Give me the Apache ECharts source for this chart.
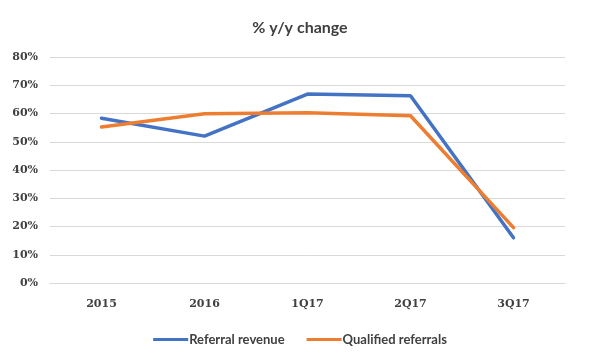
<!DOCTYPE html>
<html><head><meta charset="utf-8">
<script src="https://cdn.jsdelivr.net/npm/echarts@6/dist/echarts.min.js"></script>
<style>html,body{margin:0;padding:0;background:#fff}#c{width:600px;height:360px}</style>
</head><body><div id="c"></div>
<script>
const categories = ['2015', '2016', '1Q17', '2Q17', '3Q17'];
const referralRevenue = [58.3, 52.0, 66.9, 66.3, 16.0];
const qualifiedReferrals = [55.2, 59.9, 60.3, 59.2, 19.6];
const seriesNames = ['Referral revenue', 'Qualified referrals'];

const chart = echarts.init(document.getElementById('c'));
chart.setOption({
  animation: false,
  backgroundColor: '#fff',
  title: {
    text: '% y/y change', left: 'center', top: 15,
    textStyle: { fontFamily: 'Lato', fontSize: 16, fontWeight: 'bold', color: '#404040' }
  },
  legend: {
    bottom: 9, left: 'center', itemGap: 22, itemWidth: 35, itemHeight: 3, icon: 'rect',
    textStyle: { fontFamily: 'Lato', fontSize: 13, fontWeight: 'bold', color: '#404040', padding: [0, 0, 0, -4] },
    data: seriesNames
  },
  grid: { left: 50, right: 35, top: 57, bottom: 77 },
  xAxis: {
    type: 'category', data: categories, boundaryGap: true,
    axisLine: { show: true, lineStyle: { color: '#d9d9d9', width: 1 } },
    axisTick: { show: false },
    axisLabel: { fontFamily: 'DejaVu Serif', fontWeight: 'bold', fontSize: 11, color: '#404040', margin: 16 }
  },
  yAxis: {
    type: 'value', min: 0, max: 80, interval: 10,
    axisLine: { show: false }, axisTick: { show: false },
    splitLine: { lineStyle: { color: '#d9d9d9', width: 1 } },
    axisLabel: { formatter: '{value}%', fontFamily: 'DejaVu Serif', fontWeight: 'bold', fontSize: 11, color: '#404040', margin: 12 }
  },
  series: [
    { name: seriesNames[0], type: 'line', data: referralRevenue, symbol: 'none',
      lineStyle: { color: '#4472C4', width: 3.5, cap: 'round' }, itemStyle: { color: '#4472C4' } },
    { name: seriesNames[1], type: 'line', data: qualifiedReferrals, symbol: 'none',
      lineStyle: { color: '#ED7D31', width: 3.5, cap: 'round' }, itemStyle: { color: '#ED7D31' } }
  ]
});
</script></body></html>
